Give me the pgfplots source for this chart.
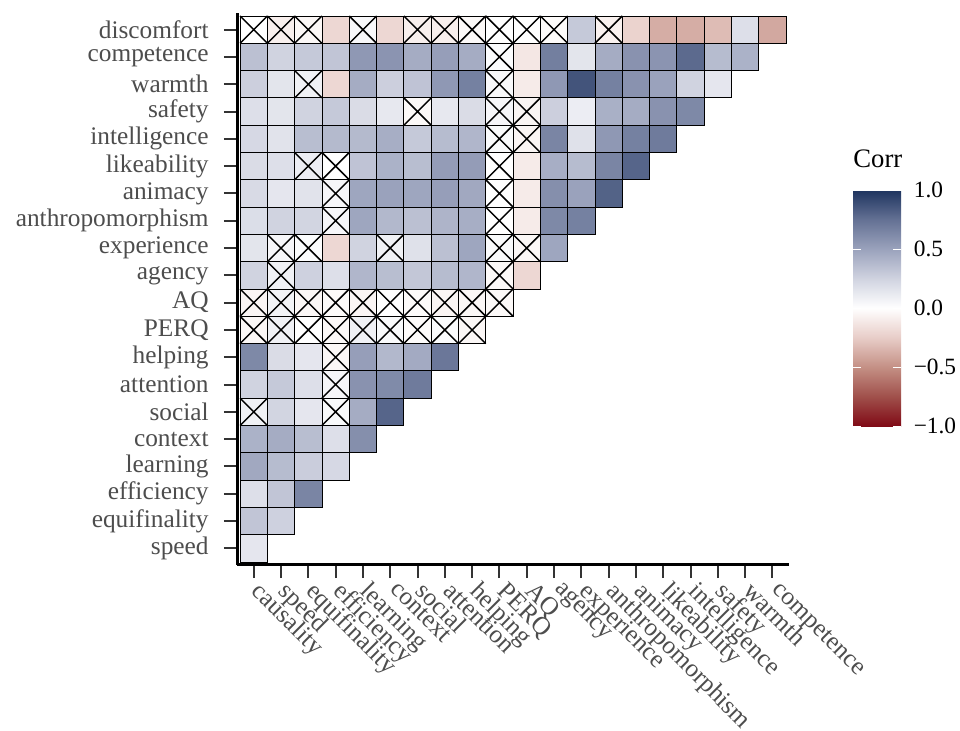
\documentclass[border=0pt]{standalone}
\usepackage{pgfplots}
\usepackage{pgfplotstable}
\pgfplotsset{compat=1.18}
\usepackage{fontspec}
\setmainfont{Liberation Serif}
\definecolor{labgray}{RGB}{77,77,77}
\definecolor{tickgray}{RGB}{51,51,51}
\pgfplotstableread{
x y v s
0 19 0.00 1
1 19 -0.08 1
2 19 -0.04 1
3 19 -0.20 0
4 19 0.04 1
5 19 -0.20 0
6 19 -0.08 1
7 19 -0.08 1
8 19 -0.03 1
9 19 0.00 1
10 19 0.00 1
11 19 -0.02 1
12 19 0.30 0
13 19 -0.07 1
14 19 -0.22 0
15 19 -0.38 0
16 19 -0.38 0
17 19 -0.32 0
18 19 0.18 0
19 19 -0.40 0
0 18 0.35 0
1 18 0.25 0
2 18 0.30 0
3 18 0.32 0
4 18 0.55 0
5 18 0.57 0
6 18 0.45 0
7 18 0.52 0
8 18 0.45 0
9 18 0.02 1
10 18 -0.12 0
11 18 0.68 0
12 18 0.15 0
13 18 0.45 0
14 18 0.58 0
15 18 0.57 0
16 18 0.78 0
17 18 0.37 0
18 18 0.42 0
0 17 0.27 0
1 17 0.15 0
2 17 0.08 1
3 17 -0.20 0
4 17 0.45 0
5 17 0.27 0
6 17 0.33 0
7 17 0.55 0
8 17 0.67 0
9 17 0.04 1
10 17 -0.10 0
11 17 0.55 0
12 17 0.87 0
13 17 0.67 0
14 17 0.58 0
15 17 0.50 0
16 17 0.25 0
17 17 0.14 0
0 16 0.18 0
1 16 0.15 0
2 16 0.25 0
3 16 0.30 0
4 16 0.20 0
5 16 0.13 0
6 16 -0.03 1
7 16 0.13 0
8 16 0.20 0
9 16 0.05 1
10 16 -0.05 1
11 16 0.27 0
12 16 0.10 0
13 16 0.43 0
14 16 0.45 0
15 16 0.58 0
16 16 0.63 0
0 15 0.22 0
1 15 0.16 0
2 15 0.36 0
3 15 0.38 0
4 15 0.38 0
5 15 0.44 0
6 15 0.30 0
7 15 0.37 0
8 15 0.40 0
9 15 0.03 1
10 15 -0.05 1
11 15 0.65 0
12 15 0.17 0
13 15 0.55 0
14 15 0.67 0
15 15 0.70 0
0 14 0.20 0
1 14 0.18 0
2 14 0.10 1
3 14 0.00 1
4 14 0.33 0
5 14 0.42 0
6 14 0.36 0
7 14 0.53 0
8 14 0.53 0
9 14 0.00 1
10 14 -0.10 0
11 14 0.44 0
12 14 0.37 0
13 14 0.65 0
14 14 0.80 0
0 13 0.21 0
1 13 0.14 0
2 13 0.16 0
3 13 0.05 1
4 13 0.48 0
5 13 0.50 0
6 13 0.48 0
7 13 0.52 0
8 13 0.47 0
9 13 0.00 1
10 13 -0.10 0
11 13 0.60 0
12 13 0.50 0
13 13 0.81 0
0 12 0.19 0
1 12 0.25 0
2 12 0.24 0
3 12 0.05 1
4 12 0.48 0
5 12 0.39 0
6 12 0.35 0
7 12 0.41 0
8 12 0.44 0
9 12 0.00 1
10 12 -0.10 0
11 12 0.63 0
12 12 0.67 0
0 11 0.15 0
1 11 0.05 1
2 11 0.02 1
3 11 -0.20 0
4 11 0.25 0
5 11 0.08 1
6 11 0.17 0
7 11 0.35 0
8 11 0.48 0
9 11 0.03 1
10 11 -0.04 1
11 11 0.48 0
0 10 0.25 0
1 10 0.08 1
2 10 0.26 0
3 10 0.18 0
4 10 0.40 0
5 10 0.36 0
6 10 0.31 0
7 10 0.37 0
8 10 0.40 0
9 10 -0.03 1
10 10 -0.20 0
0 9 -0.05 1
1 9 0.07 1
2 9 -0.04 1
3 9 -0.02 1
4 9 -0.05 1
5 9 0.00 1
6 9 -0.02 1
7 9 -0.05 1
8 9 -0.04 1
9 9 -0.03 1
0 8 -0.04 1
1 8 0.08 1
2 8 0.00 1
3 8 -0.03 1
4 8 0.08 1
5 8 0.03 1
6 8 -0.02 1
7 8 0.02 1
8 8 -0.04 1
0 7 0.63 0
1 7 0.20 0
2 7 0.14 0
3 7 -0.04 1
4 7 0.52 0
5 7 0.39 0
6 7 0.46 0
7 7 0.72 0
0 6 0.25 0
1 6 0.30 0
2 6 0.18 0
3 6 0.05 1
4 6 0.58 0
5 6 0.62 0
6 6 0.70 0
0 5 0.08 1
1 5 0.24 0
2 5 0.14 0
3 5 0.03 1
4 5 0.45 0
5 5 0.80 0
0 4 0.42 0
1 4 0.45 0
2 4 0.36 0
3 4 0.18 0
4 4 0.60 0
0 3 0.47 0
1 3 0.37 0
2 3 0.28 0
3 3 0.22 0
0 2 0.18 0
1 2 0.32 0
2 2 0.65 0
0 1 0.32 0
1 1 0.26 0
0 0 0.14 0
}\corrdata
\begin{document}
\begin{tikzpicture}
\begin{axis}[
  name=main,
  x=20.475pt, y=20.475pt,
  xmin=-0.6, xmax=19.6, ymin=-0.6, ymax=19.6,
  axis x line=bottom, axis y line=left,
  axis line style={line width=2.25pt, -, black},
  xtick={0,...,19}, ytick={0,...,19},
  xticklabels={causality,speed,equifinality,efficiency,learning,context,social,attention,helping,PERQ,AQ,agency,experience,anthropomorphism,animacy,likeability,intelligence,safety,warmth,competence},
  yticklabels={speed,equifinality,efficiency,learning,context,social,attention,helping,PERQ,AQ,agency,experience,anthropomorphism,animacy,likeability,intelligence,safety,warmth,competence,discomfort},
  tick align=outside, major tick length=10pt,
  tick style={draw=tickgray, line width=1.5pt},
  xticklabel style={xshift=7pt, rotate=-45, anchor=north west, font=\fontsize{19}{19}\selectfont, text=labgray, inner sep=1pt},
  yticklabel style={xshift=-8pt, font=\fontsize{19}{19}\selectfont, text=labgray},
  clip=false,
  point meta min=-1, point meta max=1,
  colormap={corr}{rgb255=(128,10,22) rgb255=(160,80,75) rgb255=(196,144,133) rgb255=(232,205,200) rgb255=(255,255,255) rgb255=(208,211,224) rgb255=(154,162,188) rgb255=(100,113,148) rgb255=(30,52,95)},
  colorbar,
  colorbar/width=36pt,
  colorbar style={
    at={(parent axis.south west)}, anchor=south west, xshift=453.3pt, yshift=104pt,
    height=177pt,
    axis lines=box,
    axis line style={draw=none},
    ytick={-1,-0.5,0,0.5,1},
    yticklabels={−1.0,−0.5,0.0,0.5,1.0},
    yticklabel pos=right, ytick pos=both,
    major tick length=6pt, tick align=inside,
    ytick style={draw=white, line width=0.75pt},
    yticklabel style={xshift=6pt, font=\fontsize{17.5}{17.5}\selectfont, text=black},
    title=Corr,
    title style={at={(0,1)}, anchor=base west, yshift=11pt, inner sep=0pt, font=\fontsize{20}{20}\selectfont, text=black},
  },
]
\addplot[scatter, only marks, mark=square*, mark size=10.2375pt, line width=0.65pt,
  point meta=explicit,
  scatter/use mapped color={draw=black, fill=mapped color}]
  table[x=x, y=y, meta=v] {\corrdata};
\addplot[only marks, mark=x, mark size=14.478pt, black, line width=1.1pt,
  restrict expr to domain={\thisrow{s}}{0.5:1.5}]
  table[x=x, y=y] {\corrdata};
\end{axis}
\pgfresetboundingbox
\path (main.south west) ++(-178pt,-124.7pt) rectangle ++(720pt,548.25pt);
\end{tikzpicture}
\end{document}
